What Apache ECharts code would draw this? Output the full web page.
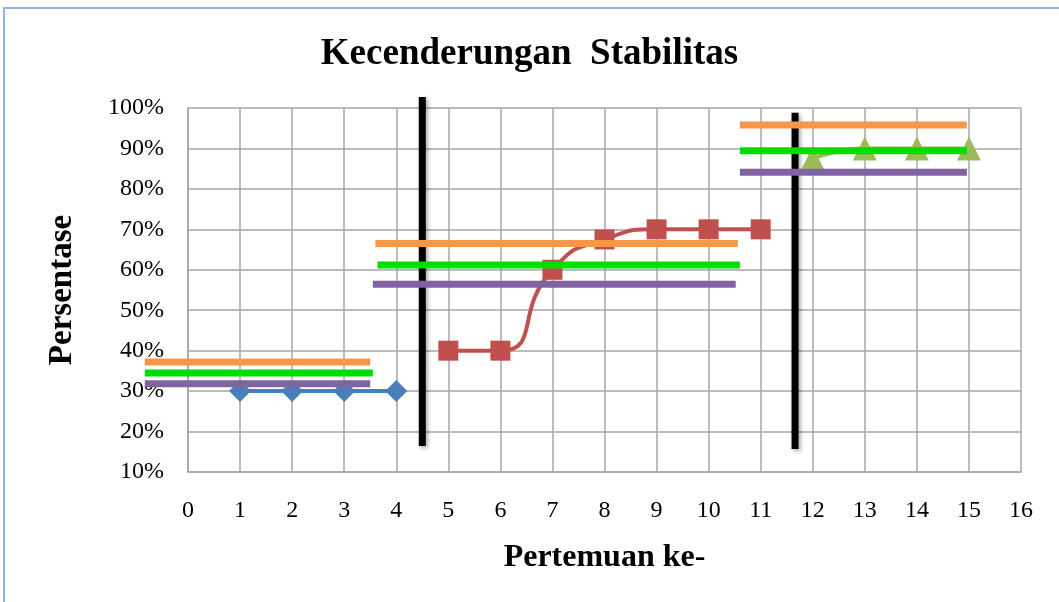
<!DOCTYPE html>
<html>
<head>
<meta charset="utf-8">
<script src="https://cdn.jsdelivr.net/npm/echarts@6/dist/echarts.min.js"></script>
<style>
  html, body { margin: 0; padding: 0; background: #fff; }
  #chart { width: 1059px; height: 602px; }
</style>
</head>
<body>
<div id="chart"></div>
<script>
// data
const pertemuanA = [1, 2, 3, 4]
const nilaiA = [30, 30, 30, 30]
const pertemuanB = [5, 6, 7, 8, 9, 10, 11]
const nilaiB = [40, 40, 60, 67.5, 70, 70, 70]
const pertemuanC = [12, 13, 14, 15]
const nilaiC = [87.5, 90, 90, 90]

// trend bands per phase: [x awal, x akhir, nilai]
const batasAtas = [[-0.83, 3.5, 37.2], [3.6, 10.56, 66.5], [10.6, 14.96, 95.8]]
const mean = [[-0.83, 3.55, 34.5], [3.64, 10.6, 61.2], [10.6, 14.96, 89.4]]
const batasBawah = [[-0.83, 3.5, 31.8], [3.55, 10.52, 56.4], [10.6, 14.96, 84.1]]

// phase separators: [x, y bawah, y atas]
const pemisah = [[4.5, 16.4, 102.7], [11.66, 15.7, 98.8]]

const xTicks = { min: 0, max: 16, step: 1 }
const yTicks = { min: 10, max: 100, step: 10 }

const chart = echarts.init(document.getElementById('chart'))

const zip = (xs, ys) => xs.map((x, i) => [x, ys[i]])

// build a segmented line (null separates the pieces)
function segmen(rows) {
  const out = []
  rows.forEach((r, i) => {
    if (i > 0) out.push(null)
    out.push([r[0], r[2]], [r[1], r[2]])
  })
  return out
}
function segmenVertikal(rows) {
  const out = []
  rows.forEach((r, i) => {
    if (i > 0) out.push(null)
    out.push([r[0], r[1]], [r[0], r[2]])
  })
  return out
}

// the trend lines run a bit left of x = 0, so they sit on a hidden twin grid
// that starts one unit earlier with the same scale
const trendLine = (name, data, color) => ({
  name: name,
  type: 'line',
  xAxisIndex: 1,
  yAxisIndex: 1,
  data: segmen(data),
  symbol: 'none',
  clip: false,
  connectNulls: false,
  z: 5,
  lineStyle: { color: color, width: 7, cap: 'butt' }
})

const gridLeft = 188
const gridRight = 38
const unitPx = (1059 - gridLeft - gridRight) / (xTicks.max - xTicks.min)

const option = {
  animation: false,
  backgroundColor: '#fff',
  title: {
    text: 'Kecenderungan  Stabilitas',
    left: 'center',
    top: 31,
    textStyle: { fontFamily: 'Liberation Serif', fontSize: 37, fontWeight: 'bold', color: '#000' }
  },
  graphic: [{
    type: 'rect',
    shape: { x: 4, y: 8, width: 1200, height: 800 },
    style: { fill: 'none', stroke: '#8db3e2', lineWidth: 2 }
  }],
  grid: [
    { left: gridLeft, right: gridRight, top: 108, bottom: 130 },
    { left: gridLeft - unitPx, right: gridRight, top: 108, bottom: 130 }
  ],
  xAxis: [{
    type: 'value',
    min: xTicks.min,
    max: xTicks.max,
    interval: xTicks.step,
    name: 'Pertemuan ke-',
    nameLocation: 'middle',
    nameGap: 70,
    nameTextStyle: { fontFamily: 'Liberation Serif', fontSize: 32, fontWeight: 'bold', color: '#000' },
    axisLine: { lineStyle: { color: '#a6a6a6', width: 1.5 } },
    axisTick: { show: false },
    axisLabel: { margin: 27, fontFamily: 'Liberation Serif', fontSize: 24, color: '#000' },
    splitLine: { show: true, lineStyle: { color: '#a6a6a6', width: 1.5 } }
  }, {
    type: 'value',
    gridIndex: 1,
    min: xTicks.min - 1,
    max: xTicks.max,
    show: false
  }],
  yAxis: [{
    type: 'value',
    min: yTicks.min,
    max: yTicks.max,
    interval: yTicks.step,
    name: 'Persentase',
    nameLocation: 'middle',
    nameGap: 109,
    nameTextStyle: { fontFamily: 'Liberation Serif', fontSize: 33, fontWeight: 'bold', color: '#000' },
    axisLine: { show: true, lineStyle: { color: '#a6a6a6', width: 1.5 } },
    axisTick: { show: false },
    axisLabel: { margin: 24, fontFamily: 'Liberation Serif', fontSize: 24, color: '#000', formatter: '{value}%' },
    splitLine: { show: true, lineStyle: { color: '#a6a6a6', width: 1.5 } }
  }, {
    type: 'value',
    gridIndex: 1,
    min: yTicks.min,
    max: yTicks.max,
    show: false
  }],
  series: [
    {
      name: 'Pemisah',
      type: 'line',
      data: segmenVertikal(pemisah),
      symbol: 'none',
      clip: false,
      z: 3,
      lineStyle: { color: '#000', width: 7, cap: 'butt', shadowColor: 'rgba(0,0,0,0.35)', shadowBlur: 4, shadowOffsetX: 2, shadowOffsetY: 2 }
    },
    {
      name: 'Baseline',
      type: 'line',
      data: zip(pertemuanA, nilaiA),
      symbol: 'diamond',
      symbolSize: 22,
      z: 4,
      lineStyle: { color: '#4a7ebb', width: 4 },
      itemStyle: { color: '#4a7ebb' }
    },
    {
      name: 'Intervensi',
      type: 'line',
      data: zip(pertemuanB, nilaiB),
      smooth: 0.6,
      symbol: 'rect',
      symbolSize: 20,
      z: 4,
      lineStyle: { color: '#c0504d', width: 4 },
      itemStyle: { color: '#c0504d' }
    },
    {
      name: 'Maintenance',
      type: 'line',
      data: zip(pertemuanC, nilaiC),
      smooth: 0.5,
      symbol: 'triangle',
      symbolSize: 24,
      z: 4,
      lineStyle: { color: '#9bbb59', width: 4 },
      itemStyle: { color: '#9bbb59' }
    },
    trendLine('Batas atas', batasAtas, '#f79646'),
    trendLine('Mean', mean, '#00dd00'),
    trendLine('Batas bawah', batasBawah, '#8064a2')
  ]
}

chart.setOption(option)
</script>
</body>
</html>
